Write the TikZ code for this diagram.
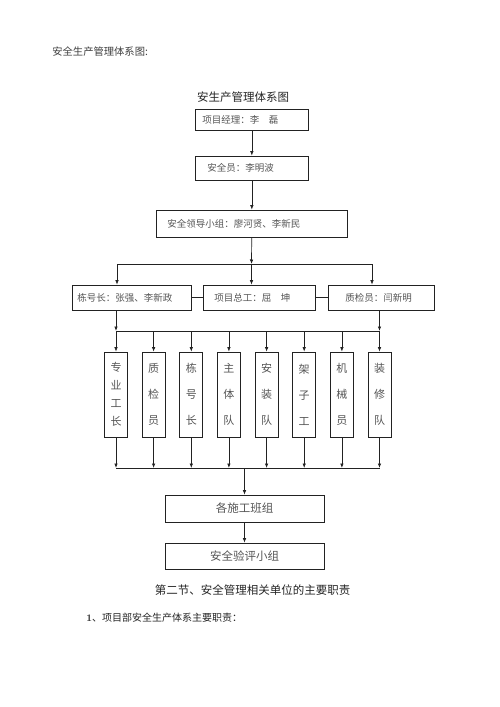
\documentclass[tikz,border=0pt]{standalone}
\usepackage{fontspec}
\newfontfamily\cjk{Noto Sans CJK SC}
\usetikzlibrary{arrows.meta}
\definecolor{boxtext}{HTML}{555555}
\definecolor{linec}{HTML}{222222}
\begin{document}
\begin{tikzpicture}[x=1pt,y=-1pt,
  line width=0.7pt, draw=linec,
  arr/.style={-{Latex[length=4.5pt,width=3.5pt]}},
  pbox/.style n args={3}{draw=linec, text width=#1, inner xsep=#2, minimum height=#3, inner ysep=0pt,
     align=left, anchor=west, text=boxtext, font=\cjk\fontsize{9.5}{11}\selectfont},
  cbox/.style={draw=linec, minimum width=159pt, inner sep=0pt, align=center,
     text=boxtext, font=\cjk\fontsize{11.5}{13}\selectfont},
  vbox/.style={draw=linec, minimum width=23pt, minimum height=85pt, inner sep=0pt, align=center,
     text=boxtext},
  plain/.style={inner sep=0pt}
]
\useasboundingbox (0,0) rectangle (500,707);
\fill[white] (0,0) rectangle (500,707);

\node[plain, anchor=west, text=black!75, font=\cjk\fontsize{10.3}{12}\selectfont] (head) at (52,52) {安全生产管理体系图:};
\node[plain, text=black!85, font=\cjk\fontsize{11.5}{13}\selectfont] (title) at (243,97) {安生产管理体系图};

\node[pbox={99pt}{7pt}{21pt}] (b1) at (195,119.5) {项目经理：李　磊};
\node[pbox={89pt}{12pt}{24pt}] (b2) at (195,168) {安全员：李明波};
\node[pbox={169pt}{11pt}{27pt}] (b3) at (156,223.5) {安全领导小组：廖河贤、李新民};

\node[pbox={109pt}{5pt}{25pt}] (rA) at (72,297.5) {栋号长：张强、李新政};
\node[pbox={90pt}{11pt}{25pt}] (rB) at (203,297.5) {项目总工：屈　坤};
\node[pbox={72pt}{17pt}{25pt}] (rC) at (328,297.5) {质检员：闫新明};

\node[vbox, font=\cjk\fontsize{11}{18}\selectfont] (v1) at (116,394.5) {专\\业\\工\\长};
\node[vbox, font=\cjk\fontsize{11}{26}\selectfont] (v2) at (153.6,394.5) {质\\检\\员};
\node[vbox, font=\cjk\fontsize{11}{26}\selectfont] (v3) at (191.3,394.5) {栋\\号\\长};
\node[vbox, font=\cjk\fontsize{11}{26}\selectfont] (v4) at (228.9,394.5) {主\\体\\队};
\node[vbox, font=\cjk\fontsize{11}{26}\selectfont] (v5) at (266.6,394.5) {安\\装\\队};
\node[vbox, font=\cjk\fontsize{11}{26}\selectfont] (v6) at (304.2,394.5) {架\\子\\工};
\node[vbox, font=\cjk\fontsize{11}{26}\selectfont] (v7) at (341.9,394.5) {机\\械\\员};
\node[vbox, font=\cjk\fontsize{11}{26}\selectfont] (v8) at (379.5,394.5) {装\\修\\队};

\node[cbox, minimum height=27pt] (g1) at (244.5,508.5) {各施工班组};
\node[cbox, minimum height=26pt] (g2) at (244.5,556) {安全验评小组};

\node[plain, text=black!85, font=\cjk\fontsize{11.5}{13}\selectfont] (sec) at (252.5,590) {第二节、安全管理相关单位的主要职责};
\node[plain, anchor=west, text=black!85, font=\cjk\fontsize{10}{12}\selectfont] (item) at (86,618) {{\normalfont\bfseries 1}、项目部安全生产体系主要职责：};

% connectors
\draw[arr] (b1) -- (b2);
\draw[arr] (b2) -- (b3);
\coordinate (j1) at (251.5,264);
\coordinate (hl) at (117,264);
\coordinate (hr) at (372,264);
\draw[arr] (b3) -- (j1);
\draw (hl) -- (hr);
\draw[arr] (hl) -- (hl |- rA.north);
\draw[arr] (j1) -- (j1 |- rB.north);
\draw[arr] (hr) -- (hr |- rC.north);
\draw (rA) -- (rB);
\draw (rB) -- (rC);

\coordinate (ml) at (116,331);
\coordinate (mr) at (379.5,331);
\draw[arr] (ml |- rA.south) -- (ml);
\draw[arr] (mr |- rC.south) -- (mr);
\draw (ml) -- (mr);
\foreach \i in {1,...,8} {
  \draw[arr] (v\i.north |- ml) -- (v\i.north);
}
\coordinate (bl) at (116,468);
\coordinate (br) at (379.5,468);
\draw (bl) -- (br);
\foreach \i in {1,...,8} {
  \draw[arr] (v\i.south) -- (v\i.south |- bl);
}
\coordinate (j2) at (244.5,468);
\draw[arr] (j2) -- (g1);
\draw[arr] (g1) -- (g2);
\end{tikzpicture}
\end{document}
